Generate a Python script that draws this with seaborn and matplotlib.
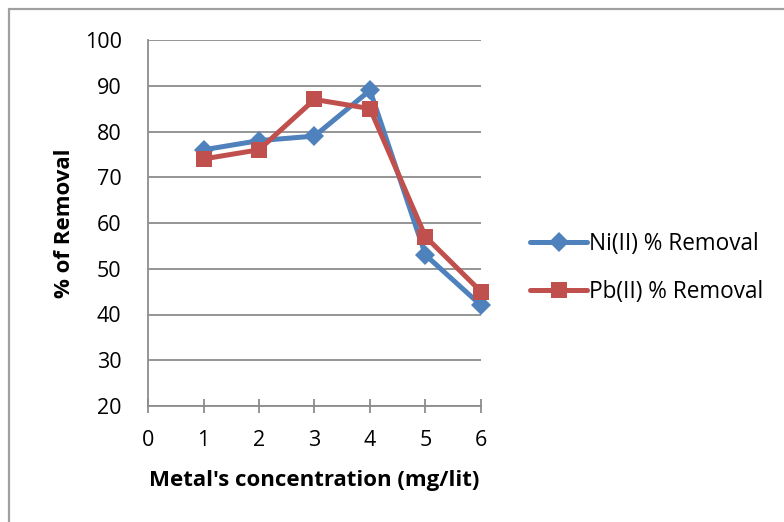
import matplotlib
matplotlib.use("Agg")
import matplotlib.pyplot as plt
from matplotlib.lines import Line2D
import seaborn as sns
import pandas as pd

concentration = [1, 2, 3, 4, 5, 6]
ni_removal = [76, 78, 79, 89, 53, 42]
pb_removal = [74, 76, 87, 85, 57, 45]
series_names = ["Ni(II) % Removal", "Pb(II) % Removal"]
x_ticks = [0, 1, 2, 3, 4, 5, 6]
y_ticks = [20, 30, 40, 50, 60, 70, 80, 90, 100]

sns.set_theme(style="white")
plt.rcParams['font.family'] = ['Open Sans', 'DejaVu Sans']

df = pd.DataFrame({
    "x": concentration * 2,
    "y": ni_removal + pb_removal,
    "series": [series_names[0]] * 6 + [series_names[1]] * 6,
})

W, H = 784, 522
fig = plt.figure(figsize=(W / 100, H / 100), dpi=100)
ax = fig.add_axes([148 / W, 1 - 406 / H, (481 - 148) / W, (406 - 40) / H])

colors = ["#4F81BD", "#C0504D"]
markers = ["D", "s"]
msizes = [10, 12]
for name, c, m, ms in zip(series_names, colors, markers, msizes):
    sub = df[df["series"] == name]
    sns.lineplot(data=sub, x="x", y="y", ax=ax, color=c, linewidth=3.6,
                 marker=m, markersize=ms, markeredgewidth=0, legend=False,
                 clip_on=False)

ax.set_xlim(0, 6)
ax.set_ylim(20, 100)
ax.set_xticks(x_ticks)
ax.set_yticks(y_ticks)
ax.yaxis.grid(True, color="#8C8C8C", linewidth=1.3)
ax.xaxis.grid(False)
ax.set_axisbelow(True)
for s in ["top", "right"]:
    ax.spines[s].set_visible(False)
for s in ["left", "bottom"]:
    ax.spines[s].set_color("#8C8C8C")
    ax.spines[s].set_linewidth(1.3)
ax.tick_params(axis="x", direction="inout", length=10, width=1.3, color="#8C8C8C",
               labelsize=15.5, pad=12, bottom=True)
ax.tick_params(axis="y", length=0, labelsize=15.5, pad=19)
for lab in ax.get_xticklabels() + ax.get_yticklabels():
    lab.set_color("black")
ax.set_xlabel("Metal's concentration (mg/lit)", fontsize=16, fontweight="bold",
              color="black", labelpad=14)
ax.set_ylabel("% of Removal", fontsize=16, fontweight="bold", color="black", labelpad=7)

handles = [Line2D([0], [0], color=c, lw=3.6, marker=m, markersize=ms, markeredgewidth=0)
           for c, m, ms in zip(colors, markers, msizes)]
leg = fig.legend(handles, series_names, loc="center left", bbox_to_anchor=(510 / W, 1 - 268 / H),
                 frameon=False, fontsize=16.3, handlelength=2.5, handletextpad=0.1,
                 labelspacing=1.05)
for t in leg.get_texts():
    t.set_color("black")

fig.add_artist(Line2D([8.5 / W, 8.5 / W], [0, 1 - 9 / H], color="#A0A0A0", lw=1.6))
fig.add_artist(Line2D([8.5 / W, 1], [1 - 9 / H, 1 - 9 / H], color="#A0A0A0", lw=1.6))

fig.savefig("out.png", dpi=100)
